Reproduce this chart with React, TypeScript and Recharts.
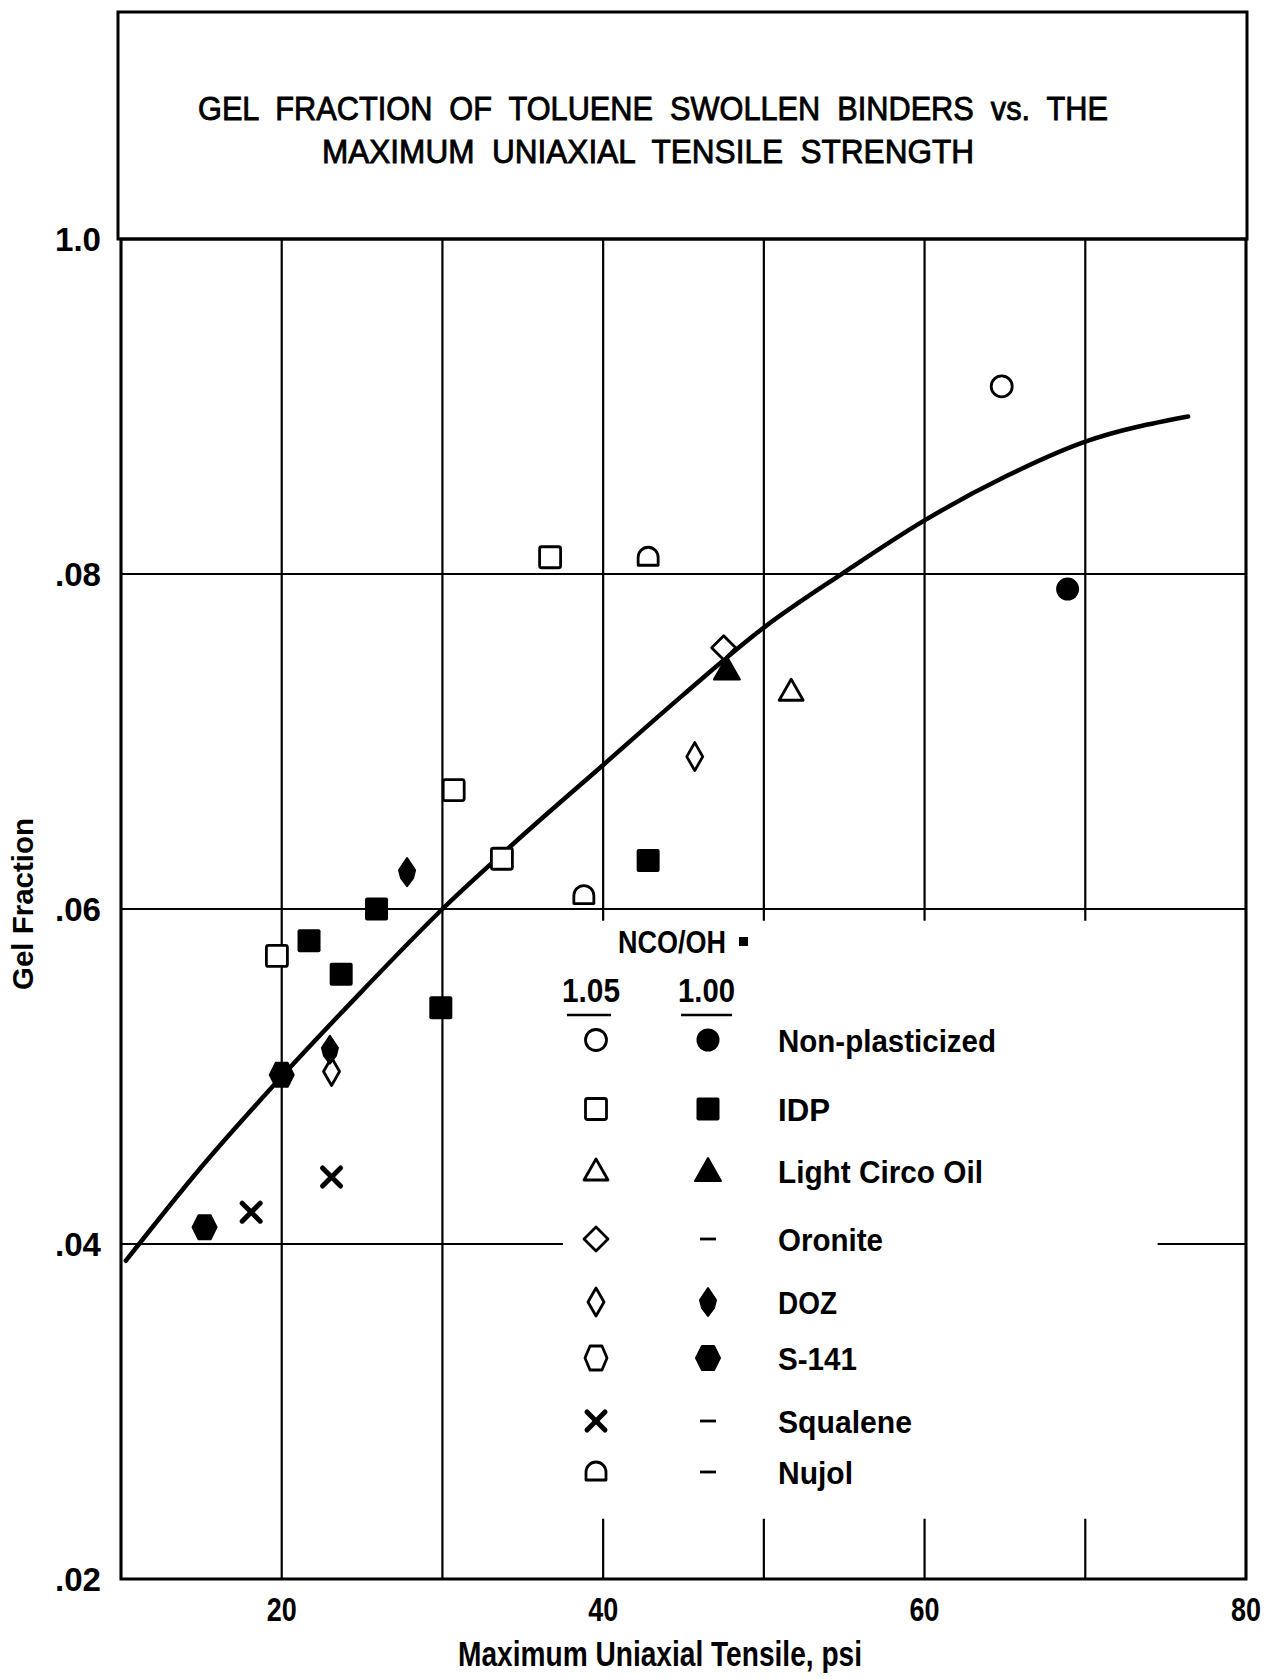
import React from 'react'
import { ComposedChart, XAxis, YAxis, CartesianGrid, Line, Scatter, ReferenceArea, Legend } from 'recharts'

const FONT = "'Liberation Sans', Arial, sans-serif"

// axes
const xTicks = [10, 20, 30, 40, 50, 60, 70, 80]
const xTickLabels = ['', '20', '', '40', '', '60', '', '80']
const yTicks = [0.02, 0.04, 0.06, 0.08, 0.1]
const yTickLabels = ['.02', '.04', '.06', '.08', '1.0']

// hand-drawn trend curve
const curve = [
  { x: 10.3, y: 0.039 },
  { x: 15, y: 0.0446 },
  { x: 20, y: 0.05 },
  { x: 25, y: 0.0551 },
  { x: 30, y: 0.06 },
  { x: 35, y: 0.0644 },
  { x: 40, y: 0.0686 },
  { x: 45, y: 0.0728 },
  { x: 50, y: 0.0768 },
  { x: 55, y: 0.0801 },
  { x: 60, y: 0.0832 },
  { x: 65, y: 0.0858 },
  { x: 70, y: 0.0879 },
  { x: 76.4, y: 0.0894 },
]

// NCO/OH = 1.05 (open) and 1.00 (filled)
const nonPlastOpen = [{ x: 64.8, y: 0.0912 }]
const nonPlastFilled = [{ x: 68.9, y: 0.0791 }]
const idpOpen = [
  { x: 19.7, y: 0.0572 },
  { x: 30.7, y: 0.0671 },
  { x: 33.7, y: 0.063 },
  { x: 36.7, y: 0.081 },
]
const idpFilled = [
  { x: 21.7, y: 0.0581 },
  { x: 23.7, y: 0.0561 },
  { x: 25.9, y: 0.06 },
  { x: 29.9, y: 0.0541 },
  { x: 42.8, y: 0.0629 },
]
const circoOpen = [{ x: 51.7, y: 0.073 }]
const circoFilled = [{ x: 47.7, y: 0.0743 }]
const oroniteOpen = [{ x: 47.5, y: 0.0756 }]
const dozOpen = [
  { x: 45.7, y: 0.0691 },
  { x: 23.1, y: 0.0503 },
]
const dozFilled = [
  { x: 27.8, y: 0.0622 },
  { x: 23.0, y: 0.0516 },
]
const s141Filled = [
  { x: 20.0, y: 0.0501 },
  { x: 15.2, y: 0.041 },
]
const squalene = [
  { x: 18.1, y: 0.0419 },
  { x: 23.1, y: 0.044 },
]
const nujol = [
  { x: 42.8, y: 0.081 },
  { x: 38.8, y: 0.0608 },
]

const legendRows = [
  { name: 'Non-plasticized', open: 'circleOpen', filled: 'circleFilled' },
  { name: 'IDP', open: 'squareOpen', filled: 'squareFilled' },
  { name: 'Light Circo Oil', open: 'triOpen', filled: 'triFilled' },
  { name: 'Oronite', open: 'diamondOpen', filled: 'dash' },
  { name: 'DOZ', open: 'narrowOpen', filled: 'narrowFilled' },
  { name: 'S-141', open: 'hexOpen', filled: 'hexFilled' },
  { name: 'Squalene', open: 'cross', filled: 'dash' },
  { name: 'Nujol', open: 'dome', filled: 'dash' },
]

const pts = (cx: number, cy: number, p: number[][]) => p.map(([dx, dy]) => `${cx + dx},${cy + dy}`).join(' ')

function Marker({ kind, cx, cy }: { kind: string; cx: number; cy: number }) {
  const sw = 2.8
  const open = { fill: '#fff', stroke: '#000', strokeWidth: sw, strokeLinejoin: 'round' as const }
  switch (kind) {
    case 'circleOpen':
      return <circle cx={cx} cy={cy} r={10.5} {...open} />
    case 'circleFilled':
      return <circle cx={cx} cy={cy} r={11.5} fill="#000" />
    case 'squareOpen':
      return <rect x={cx - 10.5} y={cy - 10.5} width={21} height={21} rx={2} {...open} />
    case 'squareFilled':
      return <rect x={cx - 11.5} y={cy - 11.5} width={23} height={23} rx={2} fill="#000" />
    case 'triOpen':
      return <polygon points={pts(cx, cy, [[0, -12], [12, 9], [-12, 9]])} {...open} />
    case 'triFilled':
      return <polygon points={pts(cx, cy, [[0, -13], [13, 10], [-13, 10]])} fill="#000" stroke="#000" strokeWidth={2} strokeLinejoin="round" />
    case 'diamondOpen':
      return <polygon points={pts(cx, cy, [[0, -12], [12, 0], [0, 12], [-12, 0]])} {...open} />
    case 'narrowOpen':
      return <polygon points={pts(cx, cy, [[0, -14], [8, 0], [0, 14], [-8, 0]])} {...open} />
    case 'narrowFilled':
      return <polygon points={pts(cx, cy, [[0, -14], [8, -2], [6, 6], [0, 14], [-6, 6], [-8, -2]])} fill="#000" stroke="#000" strokeWidth={2} strokeLinejoin="round" />
    case 'hexOpen':
      return <polygon points={pts(cx, cy, [[-6, -12], [6, -12], [11, 0], [6, 12], [-6, 12], [-11, 0]])} {...open} />
    case 'hexFilled':
      return <polygon points={pts(cx, cy, [[-6, -12], [6, -12], [12, 0], [6, 12], [-6, 12], [-12, 0]])} fill="#000" stroke="#000" strokeWidth={2} strokeLinejoin="round" />
    case 'cross':
      return (
        <g stroke="#000" strokeWidth={5} strokeLinecap="round">
          <line x1={cx - 9} y1={cy - 9} x2={cx + 9} y2={cy + 9} />
          <line x1={cx - 9} y1={cy + 9} x2={cx + 9} y2={cy - 9} />
        </g>
      )
    case 'dome':
      return <path d={`M${cx - 10},${cy + 8} L${cx + 10},${cy + 8} L${cx + 10},${cy} A10 10 0 0 0 ${cx - 10},${cy} Z`} {...open} />
    case 'dash':
      return <line x1={cx - 8} y1={cy} x2={cx + 8} y2={cy} stroke="#000" strokeWidth={2.8} />
    default:
      return null
  }
}

const shape = (kind: string) => (p: any) => <Marker kind={kind} cx={p.cx} cy={p.cy} />

function XTick({ x, y, payload }: any) {
  const i = xTicks.indexOf(payload.value)
  const label = xTickLabels[i]
  if (!label) return null
  return (
    <text x={x} y={y + 40} textAnchor="middle" fontFamily={FONT} fontWeight="bold" fontSize={34} textLength={30} lengthAdjust="spacingAndGlyphs">
      {label}
    </text>
  )
}

function YTick({ x, y, payload }: any) {
  const i = yTicks.findIndex(t => Math.abs(t - payload.value) < 1e-6)
  const label = yTickLabels[i]
  return (
    <text x={x} y={y + 12} textAnchor="end" fontFamily={FONT} fontWeight="bold" fontSize={33} textLength={46} lengthAdjust="spacingAndGlyphs">
      {label}
    </text>
  )
}

// legend geometry (relative to the legend box)
const rowY = [125, 194, 256, 324, 387, 443, 506, 557]
const labelW = [218, 52, 205, 105, 59, 79, 134, 75]

function LegendBox() {
  return (
    <svg width={470} height={590} style={{ overflow: 'visible' }}>
      <g fontFamily={FONT} fill="#000">
        <text x={68} y={38} fontSize={32} fontWeight="bold" textLength={108} lengthAdjust="spacingAndGlyphs">NCO/OH</text>
        <rect x={189} y={22} width={9} height={9} fill="#000" />
        <text x={12} y={87} fontSize={33} fontWeight="bold" textLength={58} lengthAdjust="spacingAndGlyphs">1.05</text>
        <text x={128} y={87} fontSize={33} fontWeight="bold" textLength={57} lengthAdjust="spacingAndGlyphs">1.00</text>
        <line x1={17} x2={61} y1={100} y2={100} stroke="#000" strokeWidth={2.5} />
        <line x1={131} x2={182} y1={100} y2={100} stroke="#000" strokeWidth={2.5} />
        {legendRows.map((r, i) => (
          <g key={r.name}>
            <Marker kind={r.open} cx={46} cy={rowY[i]} />
            <Marker kind={r.filled} cx={158} cy={rowY[i]} />
            <text x={228} y={rowY[i] + 12} fontSize={32} fontWeight="bold" textLength={labelW[i]} lengthAdjust="spacingAndGlyphs">
              {r.name}
            </text>
          </g>
        ))}
      </g>
    </svg>
  )
}

export default function App() {
  return (
    <div style={{ position: 'absolute', left: 0, top: 0, width: 1271, height: 1679, background: '#fff' }}>
      <ComposedChart width={1271} height={1679} margin={{ top: 239, right: 25, left: 41, bottom: 60 }}>
        <CartesianGrid stroke="#000" strokeWidth={2.2} />
        <ReferenceArea x1={37.5} x2={74.5} y1={0.0236} y2={0.0593} fill="#fff" fillOpacity={1} stroke="none" />
        <ReferenceArea x1={10} x2={80} y1={0.02} y2={0.1} fill="none" stroke="#000" strokeWidth={3} />
        <XAxis
          type="number"
          dataKey="x"
          domain={[10, 80]}
          ticks={xTicks}
          height={40}
          tickSize={0}
          axisLine={false}
          tick={<XTick />}
          interval={0}
        />
        <YAxis
          type="number"
          dataKey="y"
          domain={[0.02, 0.1]}
          ticks={yTicks}
          width={80}
          tickSize={0}
          tickMargin={20}
          axisLine={false}
          tick={<YTick />}
          interval={0}
        />
        <Line data={curve} dataKey="y" type="monotone" stroke="#000" strokeWidth={4.5} strokeLinecap="round" dot={false} isAnimationActive={false} />
        <Scatter data={nonPlastOpen} shape={shape('circleOpen')} isAnimationActive={false} />
        <Scatter data={nonPlastFilled} shape={shape('circleFilled')} isAnimationActive={false} />
        <Scatter data={idpOpen} shape={shape('squareOpen')} isAnimationActive={false} />
        <Scatter data={idpFilled} shape={shape('squareFilled')} isAnimationActive={false} />
        <Scatter data={circoOpen} shape={shape('triOpen')} isAnimationActive={false} />
        <Scatter data={oroniteOpen} shape={shape('diamondOpen')} isAnimationActive={false} />
        <Scatter data={circoFilled} shape={shape('triFilled')} isAnimationActive={false} />
        <Scatter data={dozOpen} shape={shape('narrowOpen')} isAnimationActive={false} />
        <Scatter data={dozFilled} shape={shape('narrowFilled')} isAnimationActive={false} />
        <Scatter data={s141Filled} shape={shape('hexFilled')} isAnimationActive={false} />
        <Scatter data={squalene} shape={shape('cross')} isAnimationActive={false} />
        <Scatter data={nujol} shape={shape('dome')} isAnimationActive={false} />
        <Legend
          layout="vertical"
          align="center"
          verticalAlign="middle"
          wrapperStyle={{ left: 550, top: 915, width: 470, height: 590 }}
          content={() => <LegendBox />}
        />
      </ComposedChart>
      <svg width={1271} height={1679} style={{ position: 'absolute', left: 0, top: 0, pointerEvents: 'none' }}>
        <rect x={118} y={12} width={1129} height={227} fill="none" stroke="#000" strokeWidth={3} />
        <g fontFamily={FONT} fontSize={34} fill="#000" stroke="#000" strokeWidth={0.9} textAnchor="middle">
          <text x={653} y={120} xmlSpace="preserve" style={{ whiteSpace: 'pre' }} textLength={910} lengthAdjust="spacingAndGlyphs">
            {'GEL  FRACTION  OF  TOLUENE  SWOLLEN  BINDERS  vs.  THE'}
          </text>
          <text x={648} y={163} xmlSpace="preserve" style={{ whiteSpace: 'pre' }} textLength={652} lengthAdjust="spacingAndGlyphs">
            {'MAXIMUM  UNIAXIAL  TENSILE  STRENGTH'}
          </text>
        </g>
        <text x={660} y={1666} textAnchor="middle" fontFamily={FONT} fontWeight="bold" fontSize={35} textLength={404} lengthAdjust="spacingAndGlyphs">
          Maximum Uniaxial Tensile, psi
        </text>
        <text transform="translate(33, 904) rotate(-90)" textAnchor="middle" fontFamily={FONT} fontWeight="bold" fontSize={29} textLength={172} lengthAdjust="spacingAndGlyphs">
          Gel Fraction
        </text>
      </svg>
    </div>
  )
}
